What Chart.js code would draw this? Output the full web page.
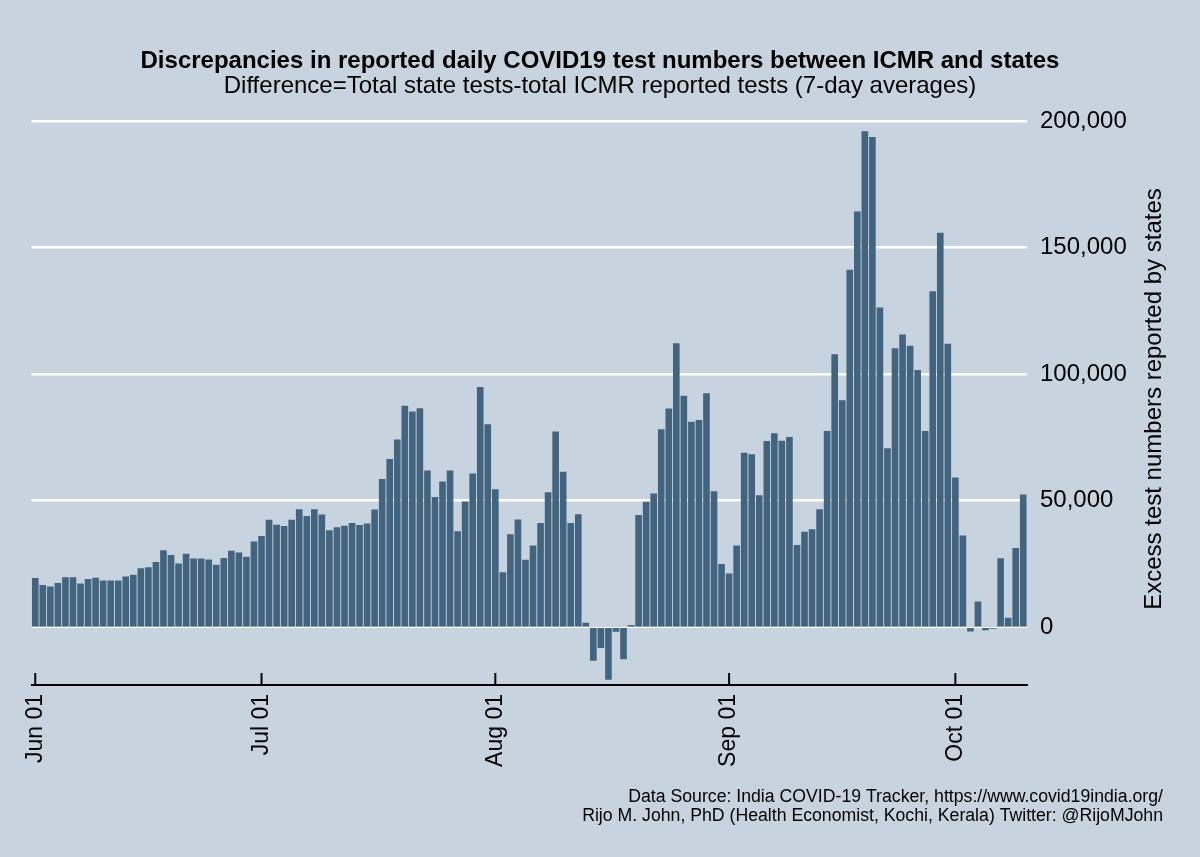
<!DOCTYPE html>
<html>
<head>
<meta charset="utf-8">
<script src="https://cdn.jsdelivr.net/npm/chart.js@4.4.1/dist/chart.umd.min.js"></script>
<style>
  html, body { margin: 0; padding: 0; background: #c7d4e0; }
  #wrap { width: 1200px; height: 857px; position: relative; }
</style>
</head>
<body>
<div id="wrap"><canvas id="c" width="1200" height="857"></canvas></div>
<script>
// ---- data ----
const startDate = '2020-06-01';
const tickLabels = ['Jun 01', 'Jul 01', 'Aug 01', 'Sep 01', 'Oct 01'];
const excessTests = [
  19400,16600,16000,17400,19700,19700,17200,19000,19500,18400,18400,18400,20000,20700,23200,23600,25700,30400,28500,25100,29000,27100,27100,
  26700,24600,27300,30200,29500,27800,33800,36000,42400,40400,39900,42400,46600,43900,46600,44500,38300,39400,40000,41100,40300,40900,46500,
  58500,66400,74100,87500,85200,86500,61900,51400,57500,61900,37900,49600,60700,94900,80200,54500,21700,36700,42500,26600,32200,41100,53300,
  77300,61400,41100,44600,1700,-13300,-8300,-20800,-1900,-12700,800,44300,49500,52800,78200,86400,112200,91400,81100,81800,92400,53700,
  24900,21200,32200,68900,68300,52100,73500,76600,73600,75100,32400,37700,38700,
  46600,77500,107800,89600,141200,164200,195900,193700,126300,70700,110200,115600,111200,101600,77500,132700,155800,112000,59100,36200,-1750,10100,-1300,-700,27200,3650,31200,52400
];
const yTicks = [0, 50000, 100000, 150000, 200000];
const titleText = 'Discrepancies in reported daily COVID19 test numbers between ICMR and states';
const subtitleText = 'Difference=Total state tests-total ICMR reported tests (7-day averages)';
const yTitle = 'Excess test numbers reported by states';
const footerLines = ['Data Source: India COVID-19 Tracker, https://www.covid19india.org/',
                     'Rijo M. John, PhD (Health Economist, Kochi, Kerala) Twitter: @RijoMJohn'];

// category labels (one per day)
const months = ['Jan','Feb','Mar','Apr','May','Jun','Jul','Aug','Sep','Oct','Nov','Dec'];
const dayLabels = [];
{
  const d0 = new Date(startDate + 'T00:00:00Z');
  for (let i = 0; i < excessTests.length; i++) {
    const d = new Date(d0.getTime() + i * 86400000);
    dayLabels.push(months[d.getUTCMonth()] + ' ' + String(d.getUTCDate()).padStart(2, '0'));
  }
}

const FONT = '"Liberation Sans", Arial, sans-serif';
const BAR = '#42647f';

const decor = {
  id: 'decor',
  beforeDraw(chart) {
    const ctx = chart.ctx;
    ctx.save();
    ctx.fillStyle = '#c7d4e0';
    ctx.fillRect(0, 0, chart.width, chart.height);
    ctx.restore();
  },
  afterDatasetsDraw(chart) {
    const ctx = chart.ctx;
    const xs = chart.scales.x, ys = chart.scales.y;
    const ca = chart.chartArea;
    ctx.save();
    // zero line over the bar bases
    const y0 = ys.getPixelForValue(0);
    ctx.strokeStyle = 'rgba(255,255,255,0.9)';
    ctx.lineWidth = 1;
    ctx.beginPath(); ctx.moveTo(ca.left, y0 + 0.5); ctx.lineTo(ca.right, y0 + 0.5); ctx.stroke();
    // inward tick marks
    ctx.strokeStyle = '#000';
    ctx.lineWidth = 2;
    tickLabels.forEach(t => {
      const idx = dayLabels.indexOf(t);
      const x = xs.getPixelForValue(idx);
      ctx.beginPath(); ctx.moveTo(x, ca.bottom - 12); ctx.lineTo(x, ca.bottom); ctx.stroke();
    });
    ctx.restore();
  },
  afterDraw(chart) {
    const ctx = chart.ctx;
    ctx.save();
    ctx.fillStyle = '#000';
    ctx.textAlign = 'center';
    ctx.textBaseline = 'middle';
    ctx.font = 'bold 24px ' + FONT;
    ctx.fillText(titleText, 600, 61);
    ctx.font = '24px ' + FONT;
    ctx.fillText(subtitleText, 600, 86);
    // y title
    ctx.save();
    ctx.translate(1154, 399);
    ctx.rotate(-Math.PI / 2);
    ctx.font = '24px ' + FONT;
    ctx.fillText(yTitle, 0, 0);
    ctx.restore();
    // footer (slightly condensed)
    ctx.textAlign = 'right';
    ctx.font = '18px ' + FONT;
    ctx.save();
    ctx.translate(1163, 0);
    ctx.scale(0.982, 1);
    ctx.fillText(footerLines[0], 0, 797);
    ctx.fillText(footerLines[1], 0, 816);
    ctx.restore();
    ctx.restore();
  }
};

new Chart(document.getElementById('c'), {
  type: 'bar',
  data: {
    labels: dayLabels,
    datasets: [{
      data: excessTests,
      backgroundColor: BAR,
      borderWidth: 0,
      barPercentage: 0.88,
      categoryPercentage: 1.0
    }]
  },
  options: {
    responsive: false,
    animation: false,
    devicePixelRatio: 1,
    layout: { padding: { left: 31.5, top: 121, right: 0, bottom: 0 } },
    plugins: { legend: { display: false }, tooltip: { enabled: false }, title: { display: false } },
    scales: {
      x: {
        type: 'category',
        offset: true,
        grid: { display: false },
        border: { display: true, color: '#000', width: 2 },
        ticks: {
          autoSkip: false,
          minRotation: 90,
          maxRotation: 90,
          padding: 1,
          color: '#000',
          font: { family: FONT, size: 23 },
          callback: function (v, i) { const l = dayLabels[i]; return tickLabels.includes(l) ? l : ''; }
        },
        afterFit(scale) { scale.height = 172; }
      },
      y: {
        position: 'right',
        min: -22900,
        max: 200000,
        grid: {
          color: '#ffffff',
          lineWidth: ctx => (ctx.tick && ctx.tick.value === 0) ? 1 : 2.5,
          drawTicks: false
        },
        border: { display: false },
        afterBuildTicks(scale) { scale.ticks = yTicks.map(v => ({ value: v })); },
        ticks: {
          padding: 13,
          color: '#000',
          font: { family: FONT, size: 24 },
          callback: v => v.toLocaleString('en-US')
        },
        afterFit(scale) { scale.width = 173; }
      }
    }
  },
  plugins: [decor]
});
</script>
</body>
</html>
